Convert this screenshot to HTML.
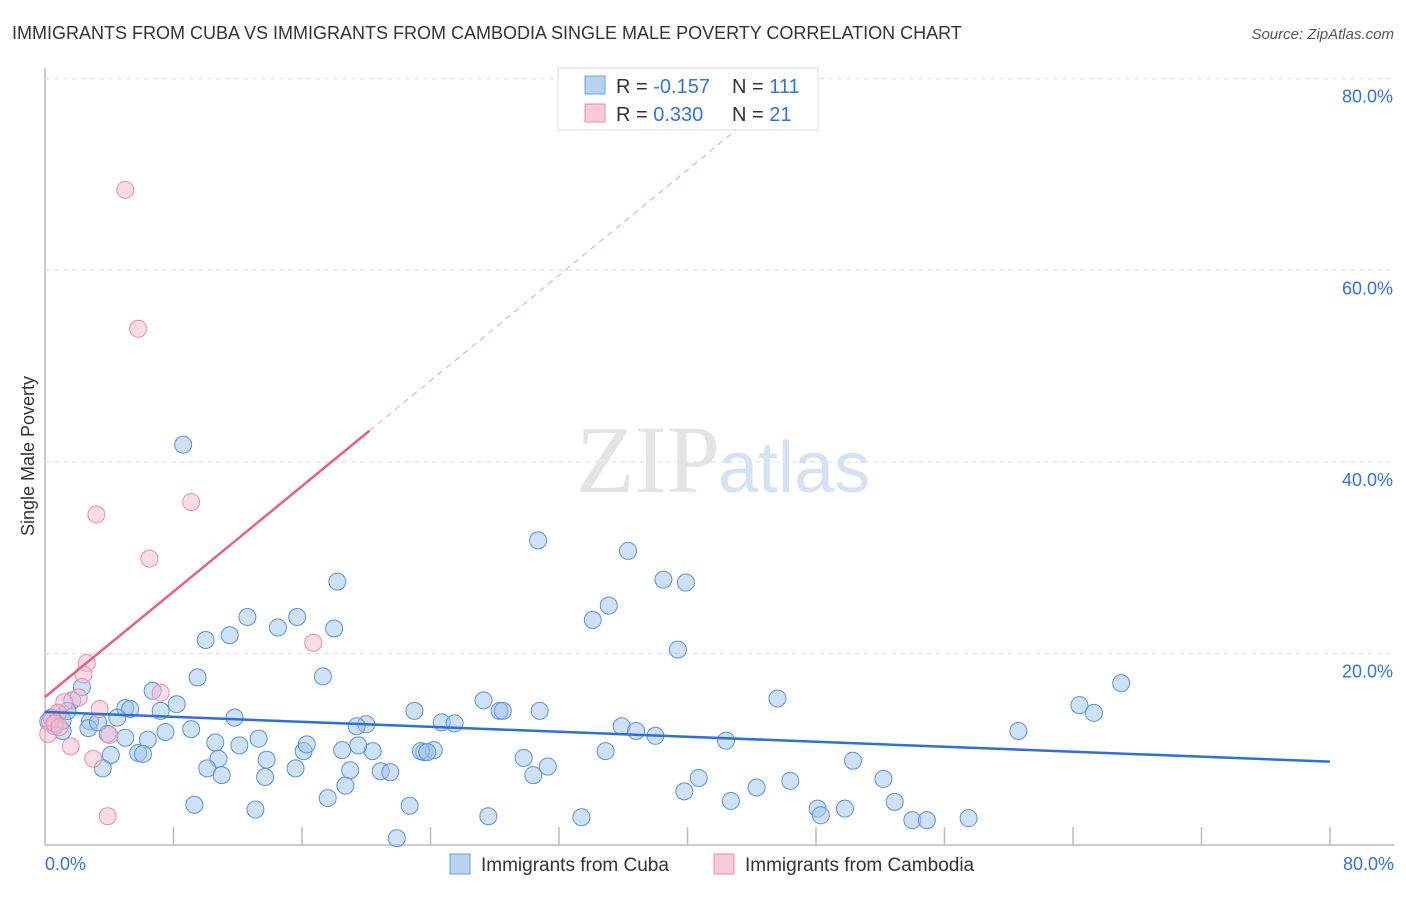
<!DOCTYPE html>
<html><head><meta charset="utf-8"><style>
body{margin:0;background:#fff;font-family:"Liberation Sans",sans-serif}
svg text{font-family:"Liberation Sans",sans-serif}
</style></head><body>
<svg id="chart" width="1406" height="892">
<text x="12" y="39" font-size="18" fill="#333">IMMIGRANTS FROM CUBA VS IMMIGRANTS FROM CAMBODIA SINGLE MALE POVERTY CORRELATION CHART</text>
<text x="1394" y="39" font-size="15" fill="#555" font-style="italic" text-anchor="end">Source: ZipAtlas.com</text>
<text transform="translate(34,456) rotate(-90)" font-size="18" fill="#333" text-anchor="middle">Single Male Poverty</text>
<g id="grid"></g>
<text x="720" y="492" font-size="96" fill="#e4e4e4" text-anchor="end" font-family="Liberation Serif" style="font-family:'Liberation Serif',serif">ZIP</text>
<text x="718" y="492" font-size="72" fill="#d6e2f3">atlas</text>
<g id="marks"></g>
<g>
<rect x="558" y="68" width="260" height="62" fill="#fff" stroke="#ddd"/>
<rect x="585" y="76" width="20" height="18" fill="#b9d1f3" stroke="#6d9fe0"/>
<rect x="585" y="104" width="20" height="18" fill="#f9cad8" stroke="#ea8fab"/>
<text x="616" y="93" font-size="20" fill="#333">R = <tspan fill="#3573d4">-0.157</tspan></text>
<text x="732" y="93" font-size="20" fill="#333">N = <tspan fill="#3573d4">111</tspan></text>
<text x="616" y="121" font-size="20" fill="#333">R = <tspan fill="#3573d4"> 0.330</tspan></text>
<text x="732" y="121" font-size="20" fill="#333">N = <tspan fill="#3573d4"> 21</tspan></text>
</g>
<g>
<rect x="450" y="854" width="20" height="20" fill="#b9d1f3" stroke="#6d9fe0"/>
<text x="481" y="871" font-size="19" fill="#333">Immigrants from Cuba</text>
<rect x="714" y="854" width="20" height="20" fill="#f9cad8" stroke="#ea8fab"/>
<text x="745" y="871" font-size="19" fill="#333">Immigrants from Cambodia</text>
</g>
</svg>
<script>
const yTicks=[20,40,60,80];
const xTickLabels=["0.0%","80.0%"];
const cubaX=[8.6,30.7,36.3,18.2,38.5,39.9,35.1,34.1,12.6,15.7,14.5,18.0,11.5,10.0,39.4,9.5,17.3,6.7,2.3,67.0,64.4,65.3,45.6,27.3,28.3,28.5,30.8,23.0,8.2,7.2,1.7,0.8,5.0,5.3,4.5,2.8,11.8,24.7,25.5,20.0,19.4,35.9,36.8,38.0,60.6,9.1,7.5,0.2,0.6,1.1,2.7,3.9,5.0,20.4,6.4,10.6,12.1,13.3,16.1,16.3,19.5,18.5,42.4,34.9,23.6,24.2,23.4,23.8,29.8,10.8,13.8,4.1,5.8,6.1,3.6,10.1,11.0,13.7,15.6,19.0,20.9,21.5,31.3,30.4,50.3,40.7,46.4,52.2,39.8,44.3,18.7,9.3,13.1,17.6,22.7,42.7,52.9,48.1,48.3,49.8,27.6,33.4,54.0,54.9,57.5,21.9,1.1,0.4,1.4,3.3];
const cubaY=[41.8,31.8,30.7,27.5,27.7,27.4,25.0,23.5,23.8,23.8,22.7,22.6,21.9,21.4,20.4,17.5,17.6,16.1,16.5,16.9,14.6,13.8,15.3,15.1,14.0,14.0,14.0,14.0,14.7,14.0,15.1,13.8,14.3,14.2,13.3,12.9,13.3,12.8,12.7,12.6,12.4,12.4,11.9,11.4,11.9,12.1,11.8,12.9,12.4,11.9,12.2,11.6,11.2,9.8,11.0,10.7,10.4,11.1,9.8,10.5,10.4,9.9,10.9,9.8,9.7,9.9,9.8,9.7,9.1,9.0,8.9,9.4,9.6,9.5,8.0,8.0,7.3,7.1,8.0,7.8,7.7,7.6,8.2,7.3,8.8,7.0,6.7,6.9,5.6,6.0,6.2,4.2,3.7,4.9,4.1,4.6,4.5,3.8,3.1,3.8,3.0,2.9,2.6,2.6,2.8,0.7,13.0,13.3,14.0,12.8];
const cambX=[5.0,5.8,9.1,3.2,6.5,16.7,2.6,2.4,2.1,7.2,3.4,1.2,0.8,0.3,0.2,1.6,3.0,4.0,3.9,0.6,0.9];
const cambY=[68.4,53.9,35.8,34.5,29.9,21.1,19.0,17.8,15.4,15.9,14.2,14.9,13.8,12.9,11.6,10.3,9.0,11.5,3.0,12.7,12.3];
const cubaLine=[13.9,8.7];
const cambIntercept=15.45, cambSlope=1.376, cambSolidEnd=20.2;

const NS="http://www.w3.org/2000/svg";
const X0=45,X1=1330,YB=845,YT=78.7;
const sx=v=>X0+v*(X1-X0)/80;
const sy=v=>YB-v*(YB-YT)/80;
function el(tag,attrs,parent){const e=document.createElementNS(NS,tag);for(const k in attrs)e.setAttribute(k,attrs[k]);parent.appendChild(e);return e;}
const grid=document.getElementById('grid'),marks=document.getElementById('marks');
// axes
let a=el('line',{x1:X0,y1:68,x2:X0,y2:YB,stroke:'#bbb','stroke-width':1.5},grid);


a=el('line',{x1:X0,y1:YB,x2:1394,y2:YB,stroke:'#bbb','stroke-width':1.5},grid);


yTicks.forEach(v=>{
 const g=el('line',{x1:X0,y1:sy(v),x2:1394,y2:sy(v),stroke:'#ddd','stroke-dasharray':'5,4'},grid);
 
 
 const t=el('text',{x:1393,y:sy(v)+24,'font-size':18,fill:'#3573d4','text-anchor':'end'},grid);
 t.textContent=v.toFixed(1)+'%';
 
 
});
for(let i=1;i<=10;i++){
 const v=i*8;
 const t=el('line',{x1:sx(v),y1:YB-18,x2:sx(v),y2:YB,stroke:'#bbb','stroke-width':1.5},grid);
 
 
}
let xl=el('text',{x:45,y:870,'font-size':18,fill:'#3573d4'},grid);xl.textContent=xTickLabels[0];


xl=el('text',{x:1394,y:870,'font-size':18,fill:'#3573d4','text-anchor':'end'},grid);xl.textContent=xTickLabels[1];


// points
cubaX.forEach((x,i)=>{
 const c=el('circle',{cx:sx(x),cy:sy(cubaY[i]),r:8.5,fill:'rgba(160,195,240,0.5)',stroke:'#5b93dd','stroke-width':1},marks);
 
 
});
cambX.forEach((x,i)=>{
 const c=el('circle',{cx:sx(x),cy:sy(cambY[i]),r:8.5,fill:'rgba(247,185,205,0.5)',stroke:'#ea8fab','stroke-width':1},marks);
 
 
});
// regression lines
let l=el('line',{x1:sx(0),y1:sy(cubaLine[0]),x2:sx(80),y2:sy(cubaLine[1]),stroke:'#2f6fd6','stroke-width':2.5},marks);


const xEnd=(80-cambIntercept)/cambSlope;
l=el('line',{x1:sx(cambSolidEnd),y1:sy(cambIntercept+cambSlope*cambSolidEnd),x2:sx(xEnd),y2:sy(80),stroke:'#eaa0b8','stroke-width':1,'stroke-dasharray':'6,5'},marks);


l=el('line',{x1:sx(0),y1:sy(cambIntercept),x2:sx(cambSolidEnd),y2:sy(cambIntercept+cambSlope*cambSolidEnd),stroke:'#e4608b','stroke-width':2.5},marks);


</script>
</body></html>
